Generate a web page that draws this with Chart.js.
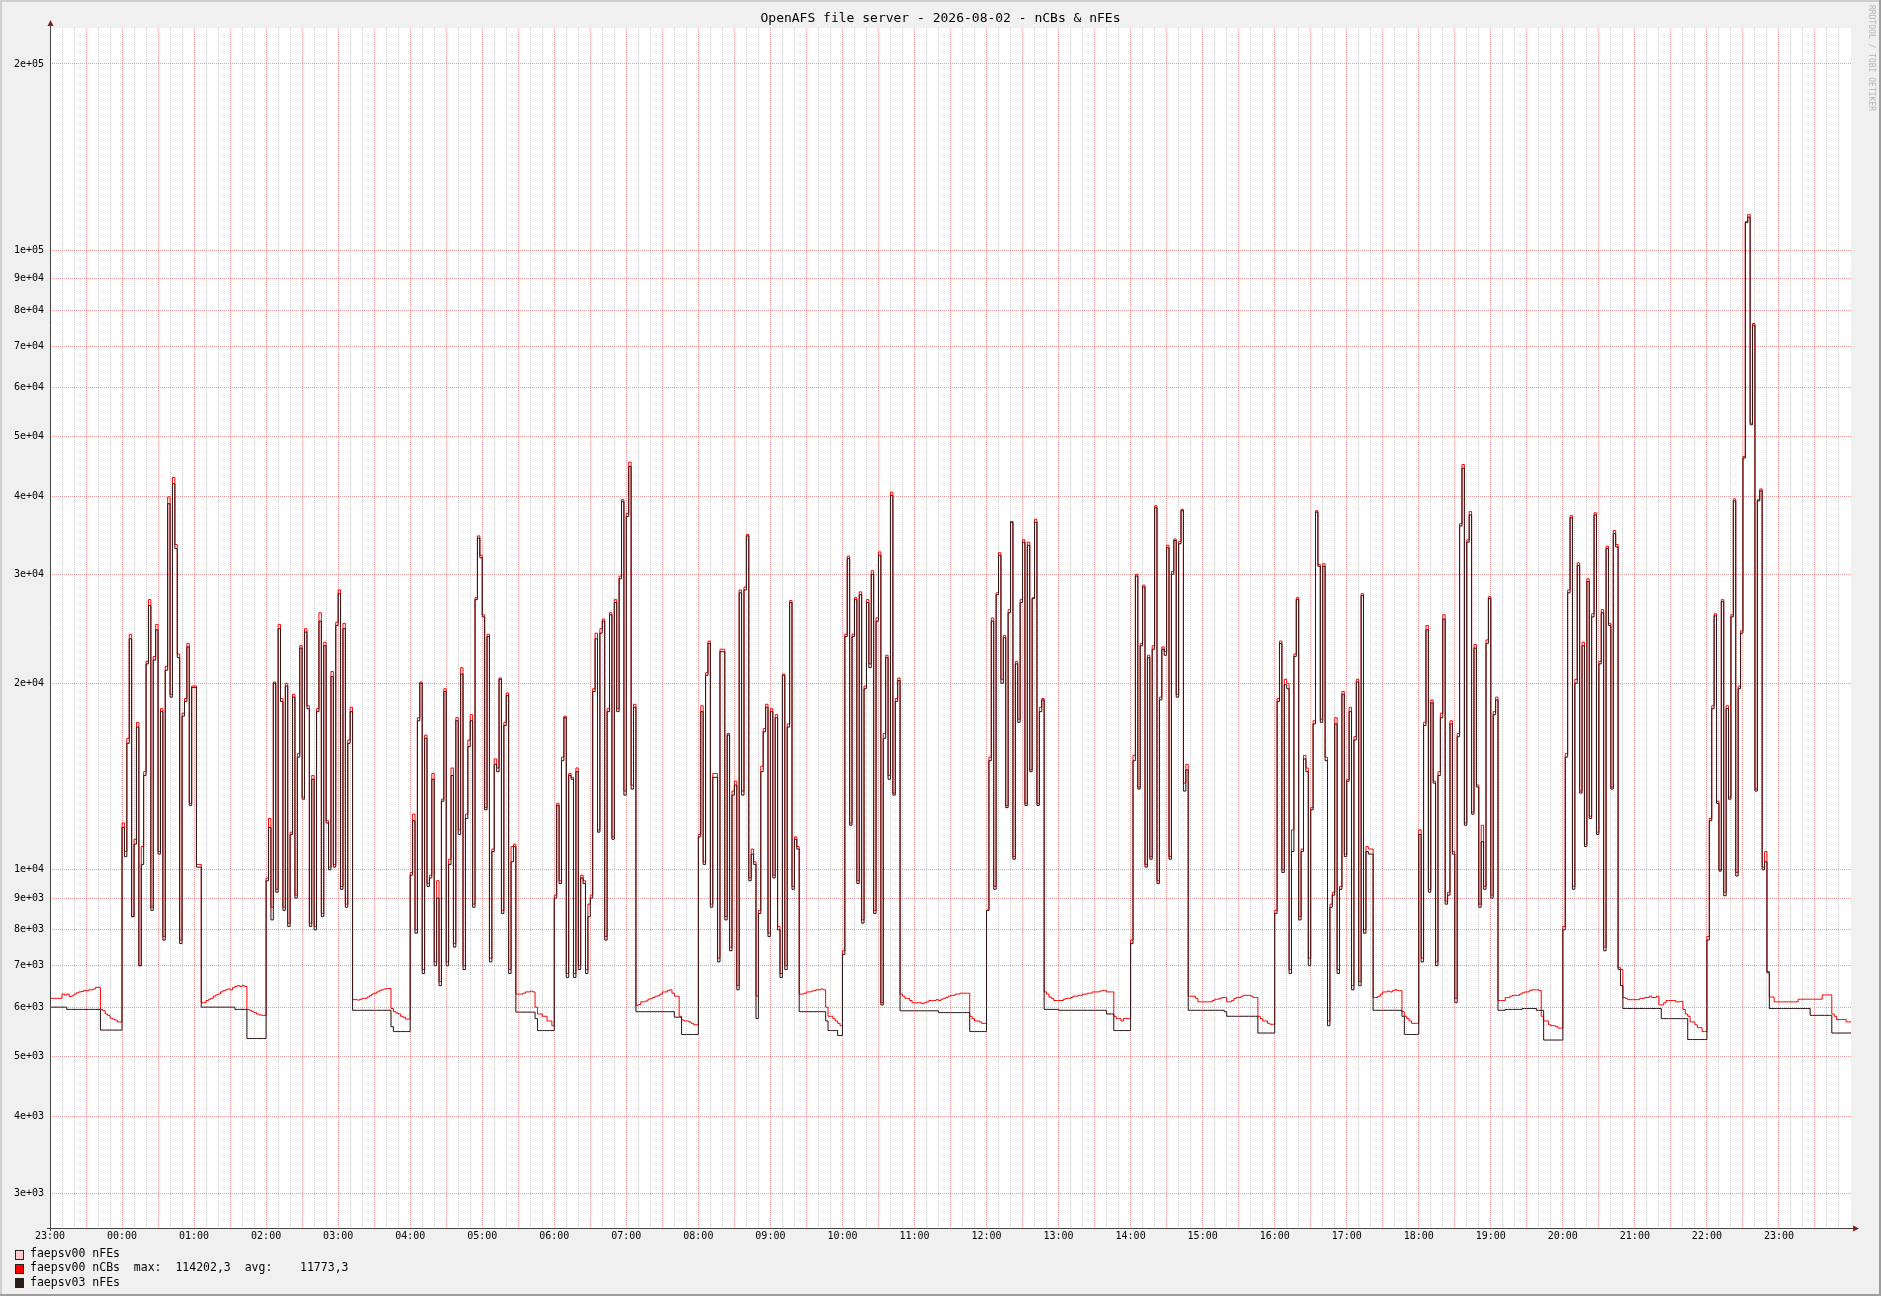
<!DOCTYPE html>
<html>
<head>
<meta charset="utf-8">
<title>OpenAFS file server - nCBs & nFEs</title>
<script src="https://cdn.jsdelivr.net/npm/chart.js@4.4.1/dist/chart.umd.min.js"></script>
<style>
  html, body { margin: 0; padding: 0; background: #f0f0f0; }
  canvas { display: block; }
</style>
</head>
<body>
<canvas id="afsChart" width="1881" height="1296" style="width:1881px;height:1296px"></canvas>
<script>
(function() {
    'use strict';

    // One value every 2 minutes, starting 23:00 the day before (one line = one hour)
    const STEP_MIN = 2;

    // faepsv03 nFEs (dark line)
    const nFEs03 = [
        6000,6000,6000,6000,6000,6000,6000,5950,5950,5950,5950,5950,5950,5950,5950,5950,5950,5950,5950,5950,5950,5510,5510,5510,5510,5510,5510,5510,5510,5510,
        11700,10500,16000,23600,8400,11000,17000,7000,10200,14200,21500,26700,8600,21800,24400,10600,18000,7700,21000,39000,19000,42000,33000,22000,7600,17700,18700,22900,12700,19700,
        19700,10100,10100,6000,6000,6000,6000,6000,6000,6000,6000,6000,6000,6000,6000,6000,6000,5950,5950,5950,5950,5950,5340,5340,5340,5340,5340,5340,5340,5340,
        9600,11700,8300,20000,9200,24500,18700,8600,19800,8100,11400,19000,9000,15200,22800,13000,24200,18200,8100,14000,8000,18000,25200,8400,23000,11900,10000,20500,10100,24800,
        27900,9300,24500,8700,16000,18000,5930,5930,5930,5930,5930,5930,5930,5930,5930,5930,5930,5930,5930,5930,5930,5930,5580,5480,5480,5480,5480,5480,5480,5480,
        9800,12000,7900,17400,20000,6800,16300,9400,9700,14000,7000,9000,6500,12900,19400,7000,10200,14200,7500,17400,11400,20700,6900,12100,15800,17400,8700,27300,34300,31900,
        25600,12500,23800,7100,10700,14800,14400,20300,8500,17100,19100,6800,10300,10900,5890,5890,5890,5890,5890,5890,5890,5890,5750,5500,5500,5500,5500,5500,5500,5500,
        9000,12700,9500,15000,17600,6700,14200,14000,6700,14400,6900,9700,9500,6800,8400,9000,19400,23600,11500,24100,25200,7700,18000,25800,11200,27000,18000,29500,39300,13200,
        37200,44800,13500,18300,5900,5900,5900,5900,5900,5900,5900,5900,5900,5900,5900,5900,5900,5900,5900,5900,5780,5780,5780,5420,5420,5420,5420,5420,5420,5420,
        11300,18000,10200,20600,23200,8700,14100,14100,7100,22500,22500,8300,16500,7400,13200,13700,6400,28000,13200,28300,34600,9600,10600,10200,5750,8500,14400,16700,18300,7800,
        18000,9700,17600,8000,6700,20600,6900,17000,27000,9300,11200,10800,5900,5900,5900,5900,5900,5900,5900,5900,5900,5900,5900,5700,5500,5500,5500,5500,5400,5400,
        7300,23800,31800,11800,23800,27300,9500,27800,8200,19600,27000,21200,30000,8500,25200,32200,6050,16300,22000,14000,40200,13200,18700,20200,5920,5920,5920,5920,5920,5920,
        5920,5920,5920,5920,5920,5920,5920,5920,5920,5920,5880,5880,5880,5880,5880,5880,5880,5880,5880,5880,5880,5880,5880,5480,5480,5480,5480,5480,5480,5480,
        8600,15000,25200,9300,27800,32200,20000,23700,12600,26000,36400,10400,21500,17300,27000,33800,12700,33400,14400,27400,36400,12700,18000,18800,5950,5950,5950,5950,5950,5950,
        5930,5930,5930,5930,5930,5930,5930,5930,5930,5930,5930,5930,5930,5930,5930,5930,5930,5930,5930,5930,5850,5850,5850,5500,5500,5500,5500,5500,5500,5500,
        7600,15000,29800,13500,23000,28600,10100,22000,10400,22700,38400,9500,18800,22700,22200,33100,10400,30000,34000,19000,33600,38000,13400,14500,5930,5930,5930,5930,5930,5930,
        5930,5930,5930,5930,5930,5930,5930,5930,5930,5900,5800,5800,5800,5800,5800,5800,5800,5800,5800,5800,5800,5800,5800,5450,5450,5450,5450,5450,5450,5450,
        8500,18700,23200,9900,19900,19600,6800,10700,22100,27300,8300,10700,15100,14400,7000,12500,17200,37800,30900,17300,30900,15000,5600,8700,9100,17200,6800,9300,19200,10500,
        13900,18000,6400,16200,20100,6500,27700,7900,10700,10600,10600,5930,5930,5930,5930,5930,5930,5930,5930,5930,5930,5930,5930,5800,5420,5420,5420,5420,5420,5420,
        11400,7100,17100,24400,9200,18600,13800,7000,14200,17600,25400,8800,9100,17200,10600,6100,16400,35900,44500,11800,33800,37400,12300,22800,13600,8700,11100,9300,23200,27400,
        9000,17800,18800,5930,5930,5930,5950,5950,5950,5950,5950,5950,5950,5970,5970,5970,5970,5970,5970,5930,5930,5930,5310,5310,5310,5310,5310,5310,5310,5310,
        8000,15200,28000,37000,9300,20000,31000,13300,23000,10900,29200,12100,25600,37400,11400,21500,26000,7400,33000,24800,13500,34900,33200,6900,6500,5970,5970,5970,5970,5970,
        5970,5970,5970,5970,5970,5970,5970,5970,5970,5970,5970,5750,5750,5750,5750,5750,5750,5750,5750,5750,5750,5750,5320,5320,5320,5320,5320,5320,5320,5320,
        7700,12000,18200,25700,12800,9950,27100,9080,18200,13000,25600,39400,9770,19600,24100,46200,110900,113200,52300,75700,13400,39400,40900,10000,10300,6820,5970,5970,5970,5970,
        5970,5970,5970,5970,5970,5970,5970,5970,5970,5970,5970,5970,5970,5820,5820,5820,5820,5820,5820,5820,5820,5820,5450,5450,5450,5450,5450,5450,5450,5450,
        5450
    ];

    // faepsv00 nCBs (red line)
    const nCBs00 = [
        6200,6200,6200,6200,6200,6300,6280,6300,6240,6260,6300,6330,6350,6360,6380,6380,6400,6400,6420,6460,6460,5950,5920,5850,5820,5760,5740,5720,5680,5680,
        11900,10700,16300,24000,8400,11200,17300,7000,10900,14400,21700,27300,8700,22100,24900,10700,18200,7800,21300,40000,19200,43000,33500,22300,7700,17900,18900,23200,12800,19800,
        19800,10200,10200,6100,6100,6150,6180,6200,6250,6280,6300,6350,6380,6400,6420,6400,6450,6480,6500,6480,6500,6480,5950,5930,5900,5880,5850,5830,5820,5820,
        9700,12100,8700,20100,9300,24900,18900,8700,20000,8200,11500,19200,9100,15400,23000,13100,24500,18400,8200,14200,8100,18200,26000,8500,23300,12000,10100,20900,10200,25100,
        28300,9400,25000,8800,16200,18300,6170,6170,6160,6180,6200,6200,6230,6260,6300,6320,6350,6380,6400,6420,6430,6430,5970,5900,5870,5850,5800,5780,5740,5740,
        9900,12300,8000,17600,20100,6900,16500,9500,9800,14300,7100,9600,6600,13000,19600,7100,10400,14600,7600,17600,11600,21200,7000,12300,16200,17800,8800,27500,34600,32200,
        25800,12600,24000,7200,10800,15100,14600,20400,8600,17300,19300,6900,10900,11000,6300,6300,6300,6320,6350,6350,6370,6350,6000,5850,5850,5800,5800,5700,5700,5600,
        9100,12800,9600,15200,17700,6800,14300,14100,6800,14600,7000,9800,9600,6900,8800,9100,19600,24100,11600,24500,25400,7800,18200,26000,11300,27300,18200,29800,39600,13400,
        37600,45500,13700,18500,6040,6060,6120,6120,6140,6180,6200,6220,6250,6260,6300,6350,6350,6380,6400,6320,6250,6250,5800,5720,5700,5700,5680,5650,5620,5620,
        11400,18400,10300,20800,23400,8800,14300,14300,7200,22700,22700,8400,16600,7500,13400,13900,6500,28300,13400,28600,34800,9700,10800,10300,6250,8600,14700,16900,18500,7900,
        18200,9800,17800,8100,6800,20700,7000,17200,27200,9400,11300,10900,6300,6300,6320,6350,6350,6370,6380,6400,6400,6420,6400,6000,5800,5800,5750,5700,5650,5600,
        7400,24000,32100,11900,24000,27500,9600,28100,8300,19800,27300,21500,30400,8600,25500,32600,6100,16600,22200,14200,40700,13300,18900,20400,6300,6250,6200,6200,6150,6100,
        6100,6100,6100,6080,6100,6120,6150,6150,6150,6170,6150,6180,6200,6220,6250,6270,6270,6300,6300,6320,6320,6320,6320,5800,5750,5700,5700,5680,5650,5650,
        8600,15200,25500,9400,28000,32500,20300,23900,12700,26300,36500,10500,21700,17500,27300,34100,12800,33800,14500,27500,36800,12800,18300,18900,6350,6300,6230,6200,6150,6150,
        6150,6150,6180,6200,6200,6220,6250,6250,6270,6270,6300,6300,6320,6320,6350,6350,6350,6370,6380,6380,6350,6350,6350,5800,5750,5750,5700,5750,5750,5750,
        7700,15300,30000,13600,23200,28800,10200,22200,10500,23000,38700,9600,19000,22900,22500,33400,10500,30300,34200,19200,33900,38200,13800,14800,6250,6250,6250,6200,6120,6120,
        6120,6120,6120,6120,6150,6180,6180,6200,6220,6220,6120,6120,6150,6200,6220,6220,6250,6270,6270,6270,6250,6220,6220,5800,5750,5700,5700,5650,5630,5630,
        8600,18900,23400,10000,20300,20000,6900,11600,22300,27500,8400,10800,15300,14600,7200,12600,17400,38000,31100,17500,31200,15200,5700,8800,9200,17600,6900,9400,19400,10600,
        14000,18300,6500,16400,20300,6600,27900,8000,10900,10800,10800,6220,6220,6250,6300,6350,6350,6370,6350,6380,6400,6380,6380,5900,5800,5750,5700,5650,5650,5650,
        11600,7200,17300,24800,9300,18800,13900,7100,14400,17900,25800,8900,9200,17400,10700,6200,16600,36200,45100,11900,34100,37900,12400,23100,13700,8800,11800,9400,23500,27600,
        9100,18000,19000,6150,6150,6150,6220,6220,6250,6270,6270,6270,6300,6330,6350,6350,6380,6400,6400,6400,6380,5800,5700,5700,5620,5600,5600,5580,5550,5550,
        8100,15400,28300,37300,9400,20300,31300,13400,23300,11000,29500,12200,25900,37700,11500,21700,26300,7500,33300,25000,13600,35300,33500,6950,6900,6220,6200,6170,6170,6170,
        6170,6170,6200,6200,6220,6220,6250,6220,6220,6250,6050,6050,6100,6150,6150,6150,6150,6120,6120,6130,5950,5850,5800,5680,5680,5620,5560,5560,5480,5480,
        7800,12100,18400,25900,12900,10000,27300,9200,18400,13100,25800,39700,9900,19800,24300,46500,111300,114202.3,52600,76200,13500,39600,41200,10100,10700,6850,6230,6230,6120,6120,
        6120,6120,6120,6120,6120,6120,6120,6120,6180,6180,6180,6180,6180,6180,6180,6180,6180,6180,6280,6280,6280,6280,5850,5800,5730,5730,5730,5730,5680,5680,
        5680
    ];

    // faepsv00 nFEs (light line) - never shows in the picture, it lies under faepsv03
    const nFEs00 = nFEs03;

    const hourLabels = ['23:00', '00:00', '01:00', '02:00', '03:00', '04:00', '05:00', '06:00',
        '07:00', '08:00', '09:00', '10:00', '11:00', '12:00', '13:00', '14:00', '15:00', '16:00',
        '17:00', '18:00', '19:00', '20:00', '21:00', '22:00', '23:00'];
    const yTicks = [3000, 4000, 5000, 6000, 7000, 8000, 9000, 10000, 20000, 30000, 40000,
        50000, 60000, 70000, 80000, 90000, 100000, 200000];
    const yLabels = ['3e+03', '4e+03', '5e+03', '6e+03', '7e+03', '8e+03', '9e+03', '1e+04',
        '2e+04', '3e+04', '4e+04', '5e+04', '6e+04', '7e+04', '8e+04', '9e+04', '1e+05', '2e+05'];

    const legendRows = [
        { text: 'faepsv00 nFEs', color: '#ffcccc' },
        { text: 'faepsv00 nCBs  max:  114202,3  avg:    11773,3', color: '#ff0000' },
        { text: 'faepsv03 nFEs', color: '#2b1b1b' }
    ];
    const titleText = 'OpenAFS file server - 2026-08-02 - nCBs & nFEs';

    const W = 1881, H = 1296;
    const MONO = '"DejaVu Sans Mono", "Liberation Mono", monospace';
    const MGRID = 'rgba(222, 80, 80, 0.55)';
    const GRID = 'rgba(143, 143, 143, 0.45)';

    function toPoints(values) {
        return values.map(function(v, i) { return { x: i * STEP_MIN, y: v }; });
    }

    // Background, frame, title, watermark, arrows and legend in rrdtool style
    const rrdChrome = {
        id: 'rrdChrome',
        beforeDraw: function(chart) {
            const ctx = chart.ctx;
            const a = chart.chartArea;
            ctx.save();
            ctx.fillStyle = '#f0f0f0';
            ctx.fillRect(0, 0, W, H);
            ctx.fillStyle = '#ffffff';
            ctx.fillRect(a.left, a.top, a.right - a.left, a.bottom - a.top);
            ctx.fillStyle = '#cfcfcf';
            ctx.fillRect(0, 0, W, 2);
            ctx.fillRect(0, 0, 2, H);
            ctx.fillStyle = '#9e9e9e';
            ctx.fillRect(0, H - 2, W, 2);
            ctx.fillRect(W - 2, 0, 2, H);
            ctx.restore();
        },
        afterDraw: function(chart) {
            const ctx = chart.ctx;
            const a = chart.chartArea;
            ctx.save();

            // title
            ctx.fillStyle = '#000';
            ctx.font = '13px ' + MONO;
            ctx.textAlign = 'center';
            ctx.textBaseline = 'middle';
            ctx.fillText(titleText, W / 2, 19);

            // watermark
            ctx.save();
            ctx.translate(1871, 5);
            ctx.rotate(Math.PI / 2);
            ctx.fillStyle = '#b4b4b4';
            ctx.font = '8px ' + MONO;
            ctx.textAlign = 'left';
            ctx.textBaseline = 'middle';
            ctx.fillText('RRDTOOL / TOBI OETIKER', 0, 0);
            ctx.restore();

            // axis extensions and arrows
            ctx.strokeStyle = '#444';
            ctx.lineWidth = 1;
            ctx.beginPath();
            ctx.moveTo(a.left + 0.5, a.bottom + 3);
            ctx.lineTo(a.left + 0.5, a.top - 4);
            ctx.moveTo(a.left - 3, a.bottom + 0.5);
            ctx.lineTo(a.right + 3, a.bottom + 0.5);
            ctx.stroke();
            ctx.fillStyle = '#7f1f1f';
            ctx.beginPath();
            ctx.moveTo(a.left + 0.5, a.top - 8);
            ctx.lineTo(a.left - 2.5, a.top - 2);
            ctx.lineTo(a.left + 3.5, a.top - 2);
            ctx.closePath();
            ctx.fill();
            ctx.beginPath();
            ctx.moveTo(a.right + 8, a.bottom + 0.5);
            ctx.lineTo(a.right + 2, a.bottom - 2.5);
            ctx.lineTo(a.right + 2, a.bottom + 3.5);
            ctx.closePath();
            ctx.fill();

            // legend
            ctx.font = '11.5px ' + MONO;
            ctx.textAlign = 'left';
            ctx.textBaseline = 'middle';
            legendRows.forEach(function(row, i) {
                const cy = 1254 + i * 14.3;
                ctx.fillStyle = row.color;
                ctx.fillRect(15.5, Math.round(cy - 4.5) + 0.5, 8, 9);
                ctx.strokeStyle = '#222';
                ctx.strokeRect(15.5, Math.round(cy - 4.5) + 0.5, 8, 9);
                ctx.fillStyle = '#000';
                ctx.fillText(row.text, 30, cy);
            });
            ctx.restore();
        }
    };

    const xTickMinutes = [];
    for (let m = 0; m < 1500; m += 10) {
        xTickMinutes.push(m);
    }

    const lineStyle = {
        borderWidth: 1,
        stepped: true,
        pointRadius: 0,
        pointHoverRadius: 0,
        fill: false,
        tension: 0
    };

    const ctx = document.getElementById('afsChart').getContext('2d');
    new Chart(ctx, {
        type: 'line',
        data: {
            datasets: [
                Object.assign({ label: 'faepsv03 nFEs', data: toPoints(nFEs03), borderColor: '#2b1b1b' }, lineStyle),
                Object.assign({ label: 'faepsv00 nCBs', data: toPoints(nCBs00), borderColor: '#ff0000' }, lineStyle),
                Object.assign({ label: 'faepsv00 nFEs', data: toPoints(nFEs00), borderColor: '#ffcccc' }, lineStyle)
            ]
        },
        options: {
            responsive: false,
            animation: false,
            devicePixelRatio: 1,
            events: [],
            layout: { padding: { left: 0, right: 30, top: 28, bottom: 0 } },
            plugins: {
                legend: { display: false },
                title: { display: false },
                tooltip: { enabled: false }
            },
            scales: {
                x: {
                    type: 'linear',
                    min: 0,
                    max: 1500,
                    afterFit: function(scale) { scale.height = 68; },
                    afterBuildTicks: function(scale) {
                        scale.ticks = xTickMinutes.map(function(m) { return { value: m }; });
                    },
                    ticks: {
                        autoSkip: false,
                        maxRotation: 0,
                        padding: 2,
                        color: '#000',
                        font: { family: MONO, size: 10 },
                        callback: function(value) {
                            return value % 60 === 0 ? hourLabels[value / 60] : '';
                        }
                    },
                    grid: {
                        drawTicks: false,
                        lineWidth: 1,
                        color: function(c) {
                            return c.tick && c.tick.value % 30 === 0 ? MGRID : GRID;
                        }
                    },
                    border: { display: false, dash: [1, 1] }
                },
                y: {
                    type: 'logarithmic',
                    min: 2640,
                    max: 228600,
                    afterFit: function(scale) { scale.width = 50; },
                    afterBuildTicks: function(scale) {
                        scale.ticks = yTicks.map(function(v) { return { value: v }; });
                    },
                    ticks: {
                        autoSkip: false,
                        padding: 6,
                        color: '#000',
                        font: { family: MONO, size: 10 },
                        callback: function(value, index) { return yLabels[index]; }
                    },
                    grid: {
                        drawTicks: false,
                        lineWidth: 1,
                        color: MGRID
                    },
                    border: { display: false, dash: [1, 1] }
                }
            }
        },
        plugins: [rrdChrome]
    });
})();
</script>
</body>
</html>
